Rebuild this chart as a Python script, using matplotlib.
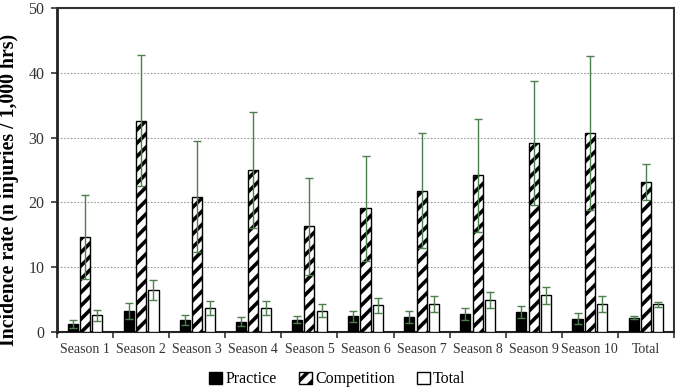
import matplotlib
matplotlib.use("Agg")
import matplotlib.pyplot as plt
import numpy as np

categories = ["Season 1", "Season 2", "Season 3", "Season 4", "Season 5", "Season 6",
              "Season 7", "Season 8", "Season 9", "Season 10", "Total"]
practice = [1.27, 3.2, 1.9, 1.6, 1.9, 2.4, 2.3, 2.8, 3.1, 2.05, 2.2]
practice_err = [0.6, 1.2, 0.8, 0.75, 0.55, 0.9, 0.9, 0.95, 0.9, 0.85, 0.25]
competition = [14.7, 32.6, 20.9, 25.0, 16.3, 19.1, 21.8, 24.2, 29.2, 30.7, 23.1]
competition_err = [6.5, 10.1, 8.6, 8.9, 7.5, 8.1, 8.9, 8.7, 9.6, 11.9, 2.8]
total = [2.55, 6.5, 3.7, 3.7, 3.3, 4.1, 4.35, 4.9, 5.65, 4.35, 4.25]
total_err = [0.85, 1.6, 1.1, 1.1, 1.0, 1.2, 1.25, 1.2, 1.3, 1.25, 0.35]
yticks = [0, 10, 20, 30, 40, 50]

DPI = 80
S = 100 / DPI  # keep visual sizes as if drawn at 100 dpi

plt.rcParams['font.family'] = ['Liberation Serif', 'DejaVu Serif']
plt.rcParams['hatch.linewidth'] = 2.6 * S
plt.rcParams['hatch.color'] = 'black'

fig = plt.figure(figsize=(675 / DPI, 390 / DPI), dpi=DPI)
ax = fig.add_axes([57/675, 58/390, 617/675, 324/390])

x = np.arange(len(categories))
w = 0.18
off = 0.22
ecol = '#4e7f4e'
ekw = dict(ecolor=ecol, elinewidth=1.0 * S, capsize=3 * S, capthick=1.0 * S, zorder=4)

ax.bar(x - off, practice, w, color='black', edgecolor='black', linewidth=1.0 * S,
       label='Practice', zorder=3)
ax.errorbar(x - off, practice, yerr=practice_err, fmt='none', **ekw)
ax.bar(x, competition, w, color='white', edgecolor='black', linewidth=1.0 * S,
       hatch='//', label='Competition', zorder=3)
ax.errorbar(x, competition, yerr=competition_err, fmt='none', **ekw)
ax.bar(x + off, total, w, color='white', edgecolor='black', linewidth=1.0 * S,
       label='Total', zorder=3)
ax.errorbar(x + off, total, yerr=total_err, fmt='none', **ekw)

ax.set_xlim(-0.5, len(categories) - 0.5)
ax.set_ylim(0, 50)
ax.set_yticks(yticks)
ax.set_xticks(x)
ax.set_xticklabels(categories)
ax.set_xticks(np.arange(len(categories) + 1) - 0.5, minor=True)
ax.tick_params(axis='x', which='major', length=0, labelsize=10 * S, pad=8 * S, colors='#333333')
ax.tick_params(axis='x', which='minor', length=4 * S, width=1.2 * S, direction='out',
               color='#333333')
ax.tick_params(axis='y', length=4 * S, width=1.2 * S, labelsize=11.5 * S, colors='#333333',
               pad=5 * S)
for lbl in ax.get_xticklabels() + ax.get_yticklabels():
    lbl.set_color('#333333')

ax.yaxis.grid(True, linestyle=(0, (1.5, 1.5)), color='#999999', linewidth=0.8 * S, zorder=0)
ax.set_axisbelow(True)

ax.spines['left'].set_linewidth(2.0 * S)
ax.spines['left'].set_color('#222222')
ax.spines['bottom'].set_linewidth(1.5 * S)
ax.spines['bottom'].set_color('#222222')
ax.spines['top'].set_linewidth(1.5 * S)
ax.spines['top'].set_color('#333333')
ax.spines['right'].set_linewidth(1.5 * S)
ax.spines['right'].set_color('#333333')

ax.set_ylabel('Incidence rate (n injuries / 1,000 hrs)', fontsize=14.2 * S, fontweight='bold')
ax.yaxis.set_label_coords(-0.062, 0.44)

leg = fig.legend(loc='lower center', bbox_to_anchor=(0.5, -0.03), ncol=3, frameon=False,
                 fontsize=11.5 * S, handlelength=0.8, handleheight=0.8, handletextpad=0.2,
                 columnspacing=1.4)

fig.savefig('out.png', dpi=DPI)
